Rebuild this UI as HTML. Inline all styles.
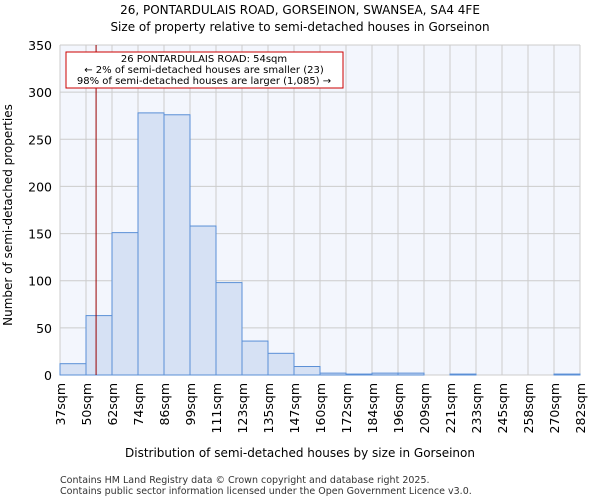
<!DOCTYPE html>
<html><head><meta charset="utf-8"><style>
body{margin:0;background:#fff;font-family:"DejaVu Sans","Liberation Sans",sans-serif}
</style></head><body>
<svg id="c" width="600" height="500" xmlns="http://www.w3.org/2000/svg" font-family="DejaVu Sans, Liberation Sans, sans-serif">
<text x="300" y="14" font-size="12" text-anchor="middle">26, PONTARDULAIS ROAD, GORSEINON, SWANSEA, SA4 4FE</text>
<text x="300" y="31" font-size="12" text-anchor="middle">Size of property relative to semi-detached houses in Gorseinon</text>
<rect x="60" y="45" width="520" height="330" fill="#f3f6fd"/>
<g id="grid"></g><g id="bars"></g><g id="axes"></g>
<text x="300" y="457" font-size="12" text-anchor="middle">Distribution of semi-detached houses by size in Gorseinon</text>
<text transform="translate(12,215) rotate(-90)" font-size="12" text-anchor="middle">Number of semi-detached properties</text>
<text x="60" y="483" font-size="9.5" fill="#333">Contains HM Land Registry data © Crown copyright and database right 2025.</text>
<text x="60" y="494" font-size="9.5" fill="#333">Contains public sector information licensed under the Open Government Licence v3.0.</text>
</svg>
<script>
const categories=["37sqm","50sqm","62sqm","74sqm","86sqm","99sqm","111sqm","123sqm","135sqm","147sqm","160sqm","172sqm","184sqm","196sqm","209sqm","221sqm","233sqm","245sqm","258sqm","270sqm","282sqm"];
const counts=[12,63,151,278,276,158,98,36,23,9,2,1,2,2,0,1,0,0,0,1];
const yTicks=[0,50,100,150,200,250,300,350];
const binStart=37, binEnd=282, subjectSize=54;
const X0=60,X1=580,Y0=375,Y1=45,YMAX=350;
const ns="http://www.w3.org/2000/svg";
const n=counts.length, bw=(X1-X0)/n;
const xs=i=>X0+i*bw;
const ys=v=>Y0-(v/YMAX)*(Y0-Y1);
const xv=v=>X0+(v-binStart)/(binEnd-binStart)*(X1-X0);
function mk(t,a,p){const e=document.createElementNS(ns,t);for(const k in a)e.setAttribute(k,a[k]);p.appendChild(e);return e;}
const grid=document.getElementById('grid'),bars=document.getElementById('bars'),axes=document.getElementById('axes');
for(let i=0;i<=n;i++){const g=mk('line',{x1:xs(i),x2:xs(i),y1:Y1,y2:Y0,stroke:'#cccccc'},grid);

}
yTicks.forEach(v=>{const g=mk('line',{x1:X0,x2:X1,y1:ys(v),y2:ys(v),stroke:'#cccccc'},grid);


const t=mk('text',{x:X0-8,y:ys(v)+5,'font-size':12.5,'text-anchor':'end'},axes);t.textContent=v;

});
counts.forEach((v,i)=>{const r=mk('rect',{x:xs(i),y:ys(v),width:bw,height:Y0-ys(v),fill:'#d6e1f4',stroke:'#5a8fd6','stroke-width':1},bars);

});
categories.forEach((c,i)=>{const t=mk('text',{transform:`translate(${xs(i)+5},${Y0+8}) rotate(-90)`,'font-size':12.5,'text-anchor':'end'},axes);t.textContent=c;

});
const px=xv(subjectSize);
const ml=mk('line',{x1:px,x2:px,y1:Y1,y2:Y0,stroke:'#990000','stroke-width':1},axes);


const box=mk('rect',{x:66,y:52,width:277,height:36,fill:'#fff',stroke:'#cc0000'},axes);


["26 PONTARDULAIS ROAD: 54sqm","← 2% of semi-detached houses are smaller (23)","98% of semi-detached houses are larger (1,085) →"].forEach((s,i)=>{const t=mk('text',{x:204,y:62+i*11,'font-size':10,'text-anchor':'middle'},axes);t.textContent=s;

});
</script>
</body></html>
